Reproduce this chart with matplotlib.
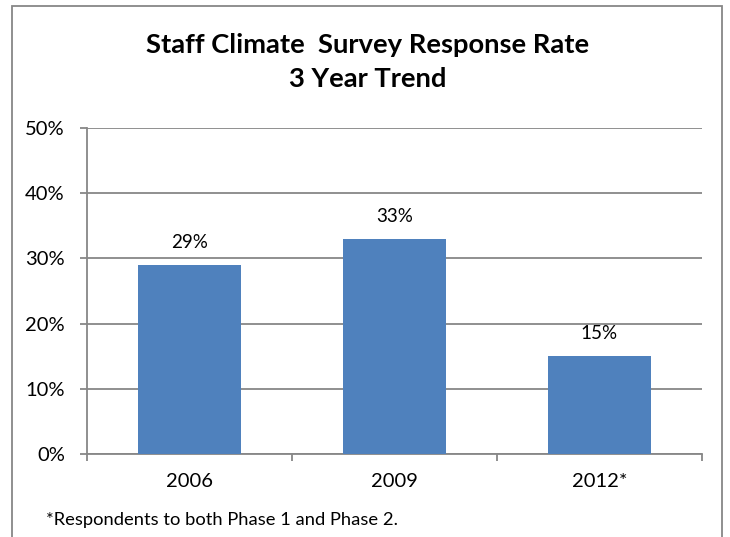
import matplotlib
matplotlib.use("Agg")
import matplotlib.pyplot as plt
from matplotlib.patches import Rectangle
from matplotlib.ticker import FixedLocator, PercentFormatter

categories = ["2006", "2009", "2012*"]
rates = [29, 33, 15]
y_ticks = [0, 10, 20, 30, 40, 50]
title_text = "Staff Climate  Survey Response Rate\n3 Year Trend"
footnote = "*Respondents to both Phase 1 and Phase 2."

plt.rcParams['font.family'] = ['Lato', 'DejaVu Sans']

W, H = 730, 537
fig = plt.figure(figsize=(W / 100, H / 100), dpi=100)
fig.patch.set_facecolor('white')

# outer chart border
fig.patches.append(Rectangle((12 / W, -0.05), 710 / W, 1 - 6 / H + 0.05,
                             transform=fig.transFigure, fill=False,
                             edgecolor='#878787', linewidth=1.3))

ax = fig.add_axes([87 / W, 1 - 454 / H, 615 / W, 326 / H])
grid_c = '#878787'
x = list(range(len(categories)))
ax.bar(x, rates, width=0.5, color='#4F81BD', zorder=3)
ax.set_xlim(-0.5, len(categories) - 0.5)
ax.set_ylim(0, 50)
ax.yaxis.set_major_locator(FixedLocator(y_ticks))
ax.yaxis.set_major_formatter(PercentFormatter(decimals=0))
ax.grid(axis='y', color=grid_c, linewidth=1.3, zorder=0)
ax.set_axisbelow(True)
for s in ['top', 'right']:
    ax.spines[s].set_visible(False)
for s in ['left', 'bottom']:
    ax.spines[s].set_color(grid_c)
    ax.spines[s].set_linewidth(1.3)
ax.set_xticks(x)
ax.set_xticklabels(categories)
ax.set_xticks([i - 0.5 for i in range(len(categories) + 1)], minor=True)
ax.tick_params(axis='x', which='major', length=0, pad=14, labelsize=14.5)
ax.tick_params(axis='x', which='minor', length=5, width=1.3, color=grid_c, direction='out')
ax.tick_params(axis='y', length=5, width=1.3, color=grid_c, labelsize=14.5, pad=11)

for xi, v in zip(x, rates):
    ax.annotate(f"{v}%", (xi, v), xytext=(0, 10), textcoords='offset points',
                ha='center', va='bottom', fontsize=13.5)

fig.text(368 / W, 1 - 62 / H, title_text, ha='center', va='center',
         fontsize=19.7, fontweight='bold', linespacing=1.5)
fig.text(46 / W, 1 - 520 / H, footnote, ha='left', va='center', fontsize=13.2)

fig.savefig('out.png', dpi=100)
